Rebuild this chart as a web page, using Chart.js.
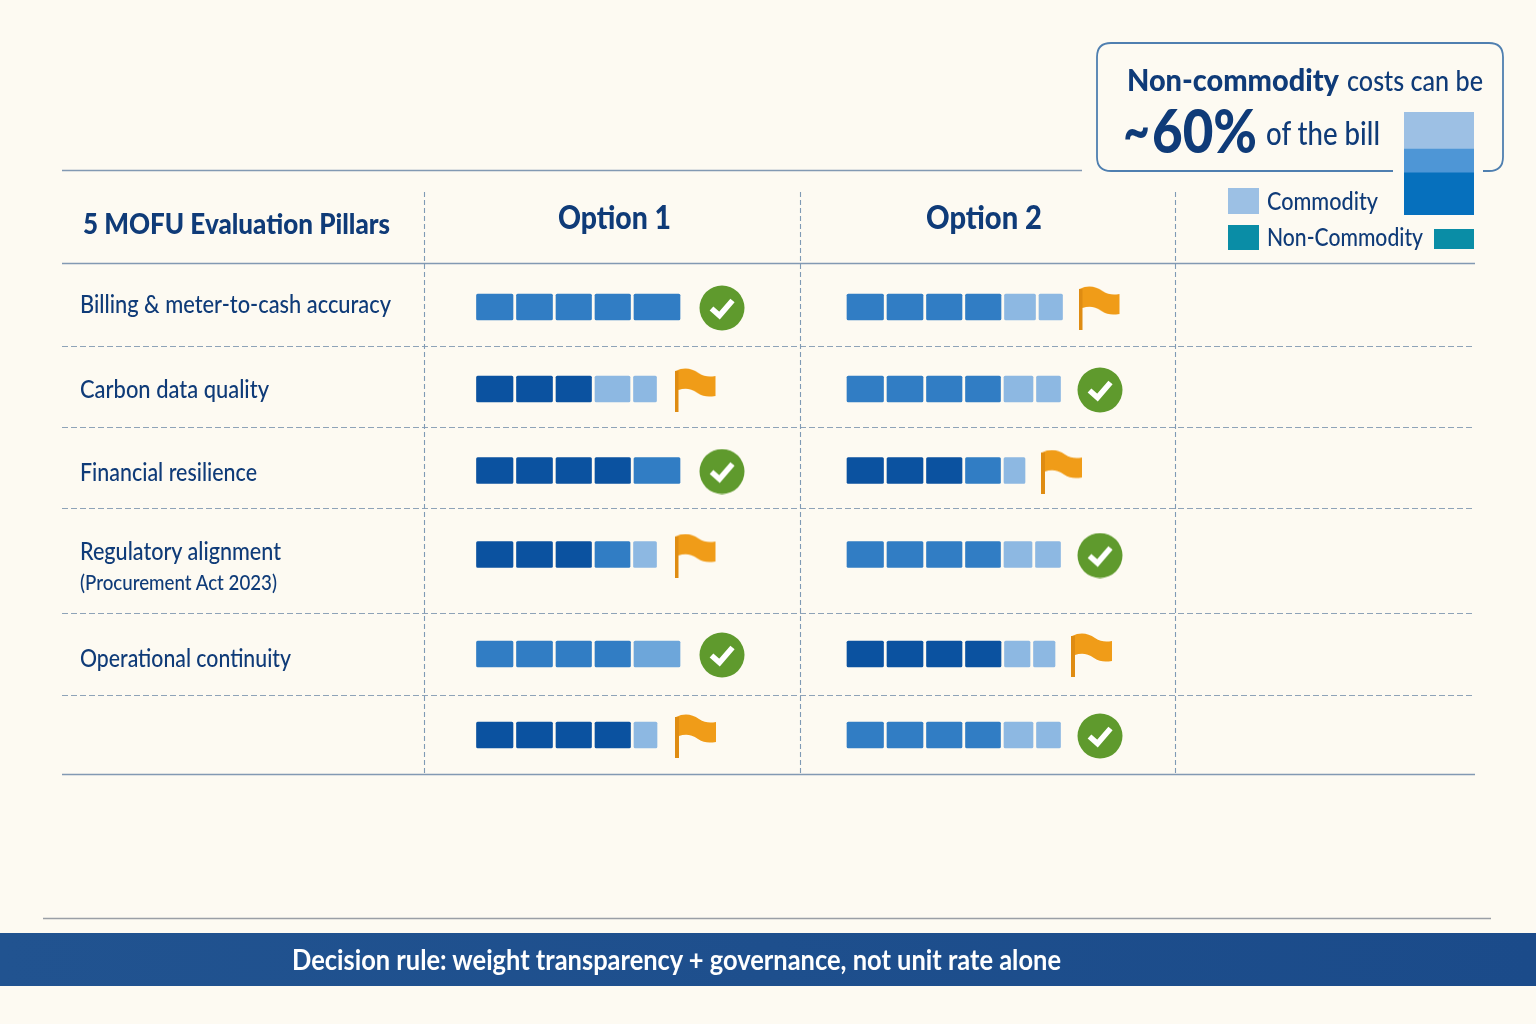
<!DOCTYPE html>
<html lang="en">
<head>
<meta charset="utf-8">
<title>5 MOFU Evaluation Pillars</title>
<script src="https://cdn.jsdelivr.net/npm/chart.js@4"></script>
<style>
html,body{margin:0;padding:0;background:#fdfaf2;overflow:hidden}
#page{position:relative;width:1536px;height:1024px;background:#fdfaf2;font-family:Lato,sans-serif;color:#0f3b78}
#page svg,#main{position:absolute;left:0;top:0}
#stackWrap{position:absolute;left:1404px;top:112px;width:70px;height:103px}
.t{position:absolute;white-space:nowrap;line-height:1;transform-origin:left center}
.sw{position:absolute}
#band{position:absolute;left:0;top:933px;width:1536px;height:53px;background:linear-gradient(90deg,#215390,#1b4b8a)}
</style>
</head>
<body>
<div id="page">
<svg width="1536" height="1024" fill="none">
  <path d="M1393 171 H1111 Q1097 171 1097 157 V57 Q1097 43 1111 43 H1489 Q1503 43 1503 57 V157 Q1503 171 1489 171 H1483" stroke="#4f7fb0" stroke-width="1.8"/>
  <path d="M62 170.500H1082M62 263.500H1475M62 774.500H1475" stroke="#8299b3" stroke-width="1.5"/>
  <path d="M62 346.500H1475M62 427.500H1475M62 508.500H1475M62 613.500H1475M62 695.500H1475" stroke="#8ea3b8" stroke-width="1.2" stroke-dasharray="6 3"/>
  <path d="M424.500 192V774M800.500 192V774M1175.500 192V774" stroke="#7f9ab5" stroke-width="1.1" stroke-dasharray="5 3"/>
  <path d="M43 918.500H1491" stroke="#9a9fa6" stroke-width="1.6"/>
</svg>
<div id="band"></div>
<canvas id="main" width="1536" height="1024"></canvas>
<div id="stackWrap"><canvas id="stack" width="70" height="103"></canvas></div>
<div class="sw" style="left:1228px;top:188px;width:31px;height:26px;background:#9cc0e4"></div>
<div class="sw" style="left:1228px;top:225px;width:31px;height:25px;background:#0a8da6"></div>
<div class="sw" style="left:1434px;top:229px;width:40px;height:20px;background:#0a8da6"></div>
<div id="texts"></div>
</div>
<script>
// ---------- Data ----------
const pillars = ["Billing & meter-to-cash accuracy","Carbon data quality","Financial resilience","Regulatory alignment","Operational continuity",""];
const pillarNote = "(Procurement Act 2023)";
const options = ["Option 1","Option 2"];
// block lengths per pillar row
const option1Blocks = [
  [36.5,36,35.5,35.5,46],
  [36.5,36,35.5,35,23],
  [36.5,36,35.5,35.5,46],
  [36.5,36,35.5,35,23],
  [36.5,36,35.5,35.5,46],
  [36.5,36,35.5,35.5,23]
];
const option2Blocks = [
  [36.5,36,35.5,35.5,31,23.5],
  [36.5,36,35.5,35,29,24],
  [36.5,36,35.5,35,21],
  [36.5,36,35.5,35,28,25],
  [36.5,36,35.5,35.5,25.5,21.5],
  [36.5,36,35.5,35,29,24]
];
// strength level per block: 4 strong, 3 good, 2 fair, 1 weak
const option1Levels = [
  [3,3,3,3,3],
  [4,4,4,1,1],
  [4,4,4,4,3],
  [4,4,4,3,1],
  [3,3,3,3,2],
  [4,4,4,4,1]
];
const option2Levels = [
  [3,3,3,3,1,1],
  [3,3,3,3,1,1],
  [4,4,4,3,1],
  [3,3,3,3,1,1],
  [4,4,4,4,1,1],
  [3,3,3,3,1,1]
];
const option1Status = ["check","flag","check","flag","check","flag"];
const option2Status = ["flag","check","flag","check","flag","check"];
const billShareLabels = ["Bill"];
const billShareTop = [36];
const billShareMiddle = [23];
const billShareBottom = [41];

// ---------- Layout ----------
const rowCentres = [307,389,470.5,554.5,654,735];
const levelColour = {4:"#0b52a0",3:"#317dc4",2:"#6da6da",1:"#8db8e2"};
const blockGap = 3.5;

function flagImage(){
  const c=document.createElement("canvas");c.width=42;c.height=44;
  const g=c.getContext("2d");
  g.fillStyle="#f09c18";
  g.beginPath();g.moveTo(1,3);
  g.bezierCurveTo(9,-1,17,0,24,5);g.bezierCurveTo(30,9,35,9,41,8);
  g.lineTo(41,28);g.bezierCurveTo(34,29,29,29,23,25);g.bezierCurveTo(16,20,10,20,4,22);
  g.closePath();g.fill();
  g.fillStyle="#df8c12";g.fillRect(0,3,4,41);
  return c;
}
function checkImage(){
  const c=document.createElement("canvas");c.width=46;c.height=46;
  const g=c.getContext("2d");
  g.fillStyle="#5f9a2d";g.beginPath();g.arc(23,23,22.5,0,Math.PI*2);g.fill();
  g.strokeStyle="#fff";g.lineWidth=5.6;g.lineJoin="miter";
  g.beginPath();g.moveTo(12.500,23.500);g.lineTo(20.500,30.500);g.lineTo(33.500,15.500);g.stroke();
  return c;
}
const icons={flag:flagImage(),check:checkImage()};

function barDatasets(blocks,levels,axis){
  const out=[];
  const n=Math.max(...blocks.map(r=>r.length));
  for(let s=0;s<n;s++){
    const data=[],colours=[];
    blocks.forEach((row,r)=>{
      if(s>=row.length)return;
      let start=0;
      for(let k=0;k<s;k++)start+=row[k]+blockGap;
      data.push({x:[start,start+row[s]],y:rowCentres[r]});
      colours.push(levelColour[levels[r][s]]);
    });
    out.push({type:"bar",indexAxis:"y",xAxisID:axis,yAxisID:"y",data,backgroundColor:colours,
      barThickness:26,grouped:false,borderRadius:1.5,borderSkipped:false,order:2});
  }
  return out;
}
function markerDataset(blocks,status,axis,checkOff,flagOff){
  const data=blocks.map((row,r)=>{
    const end=row.reduce((a,b)=>a+b,0)+blockGap*(row.length-1);
    return {x:end+(status[r]==="check"?checkOff:flagOff),y:rowCentres[r]+1};
  });
  return {type:"scatter",xAxisID:axis,yAxisID:"y",data,order:1,
    pointStyle:status.map(s=>icons[s]),pointRadius:1,pointBorderWidth:0,showLine:false};
}
const hidden={display:false,grid:{display:false},type:"linear",offset:false};
new Chart(document.getElementById("main"),{
  data:{datasets:[
    ...barDatasets(option1Blocks,option1Levels,"x1"),
    ...barDatasets(option2Blocks,option2Levels,"x2"),
    markerDataset(option1Blocks,option1Status,"x1",42,39),
    markerDataset(option2Blocks,option2Status,"x2",39.500,37)
  ]},
  options:{responsive:false,animation:false,devicePixelRatio:1,
    layout:{padding:0,autoPadding:false},
    plugins:{legend:{display:false},tooltip:{enabled:false},title:{display:false}},
    scales:{
      x1:{...hidden,axis:"x",position:"bottom",min:-476.500,max:1059.500},
      x2:{...hidden,axis:"x",position:"bottom",min:-847,max:689},
      y:{...hidden,axis:"y",position:"left",min:0,max:1024,reverse:true}
    }
  }
});
new Chart(document.getElementById("stack"),{
  type:"bar",
  data:{labels:billShareLabels,datasets:[
    {data:billShareBottom,backgroundColor:"#0670bd"},
    {data:billShareMiddle,backgroundColor:"#4e96d6"},
    {data:billShareTop,backgroundColor:"#9dc0e4"}
  ]},
  options:{responsive:false,animation:false,devicePixelRatio:1,layout:{padding:0,autoPadding:false},
    datasets:{bar:{barPercentage:1,categoryPercentage:1}},
    plugins:{legend:{display:false},tooltip:{enabled:false}},
    scales:{
      x:{stacked:true,display:false,grid:{display:false}},
      y:{stacked:true,display:false,grid:{display:false},min:0,max:100}
    }
  }
});

// ---------- Text: [string, left, right, centreY, size, weight, colour] ----------
const rowLabelY=[303,388,471,550,657];
const textItems=[
  ["5 MOFU Evaluation Pillars",83,390,223,28,900],
  [options[0],558,671,217,32,900],
  [options[1],926,1042,217,32,900],
  [pillars[0],80,391,rowLabelY[0],25,500],
  [pillars[1],80,269,rowLabelY[1],25,500],
  [pillars[2],80,257,rowLabelY[2],25,500],
  [pillars[3],80,281,rowLabelY[3],25,500],
  [pillarNote,80,277,581,21,500],
  [pillars[4],80,291,rowLabelY[4],25,500],
  ["Non-commodity",1127,1339,79,30,900],
  ["costs can be",1347,1483,80,28,500],
  ["~",1123,1150,128,62,700],
  ["60%",1152,1257,130,60,900],
  ["of the bill",1266,1380,133,32,500],
  ["Commodity",1267,1378,201,24,500],
  ["Non-Commodity",1267,1423,237,24,500],
  ["Decision rule: weight transparency + governance, not unit rate alone",292,1061,959,28,700,"#ffffff"]
];
const host=document.getElementById("texts");
textItems.forEach(([s,l,r,cy,size,w,col])=>{
  const e=document.createElement("div");
  e.className="t";e.textContent=s;
  e.style.left=l+"px";e.style.top=(cy-size/2)+"px";
  e.style.fontSize=size+"px";e.style.fontWeight=w;
  if(col)e.style.color=col;
  host.appendChild(e);
  const k=(r-l)/e.getBoundingClientRect().width;
  e.style.transform="scaleX("+k+")";
});
</script>
</body>
</html>
